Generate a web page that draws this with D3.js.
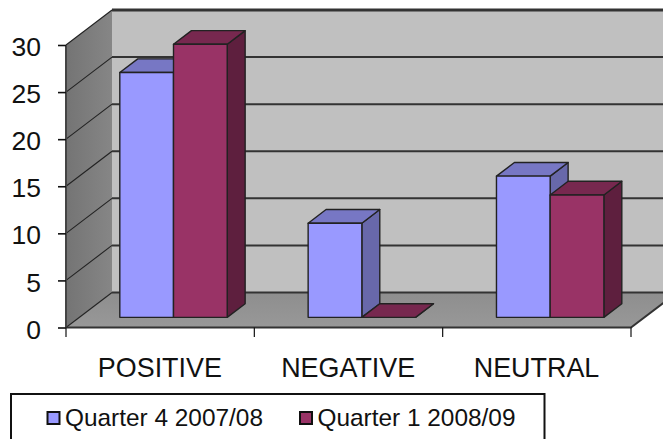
<!DOCTYPE html>
<html>
<head>
<meta charset="utf-8">
<script src="https://cdn.jsdelivr.net/npm/d3@7/dist/d3.min.js"></script>
<style>
html, body { margin: 0; padding: 0; background: #fff; }
svg { display: block; }
text { font-family: "Liberation Sans", Arial, sans-serif; fill: #111; }
</style>
</head>
<body>
<svg id="chart" width="663" height="439"></svg>
<script>
const categories = ["POSITIVE", "NEGATIVE", "NEUTRAL"];
const seriesNames = ["Quarter 4 2007/08", "Quarter 1 2008/09"];
const quarter4 = [26, 10, 15];
const quarter1 = [29, 0, 13];
const yTicks = [0, 5, 10, 15, 20, 25, 30];

const faceColors = [
  { front: "#9999ff", top: "#7777c4", side: "#6868aa" },
  { front: "#993366", top: "#77284f", side: "#5e1f3e" }
];

const W = 663, H = 439;
const depthX = 46, depthY = 35;          // oblique offset of the back wall
const barDepth = [0.29, 0.68];           // near and far faces of each bar along the depth axis
const barWidth = 53.7;
const lineDark = "#333";

const svg = d3.select("#chart");
const x = d3.scaleBand().domain(categories).range([66, 631]);
const y = d3.scaleLinear().domain([0, 30]).range([327.5, 45]);

// Oblique projection: screen position of (pixel x, value, depth 0..1)
const px = (sx, z) => sx + depthX * z;
const py = (v, z) => y(v) - depthY * z;
const poly = pts => pts.map(p => p.join(",")).join(" ");

const defs = svg.append("defs");
const wallGrad = defs.append("linearGradient").attr("id", "wallGrad").attr("x1", 0).attr("x2", 1).attr("y1", 0).attr("y2", 0);
wallGrad.append("stop").attr("offset", 0).attr("stop-color", "#747474");
wallGrad.append("stop").attr("offset", 1).attr("stop-color", "#868686");
const floorGrad = defs.append("linearGradient").attr("id", "floorGrad").attr("x1", 0).attr("x2", 0).attr("y1", 0).attr("y2", 1);
floorGrad.append("stop").attr("offset", 0).attr("stop-color", "#8e8e8e");
floorGrad.append("stop").attr("offset", 1).attr("stop-color", "#989898");

const xEnd = x.range()[1];

// Back wall
svg.append("polygon")
  .attr("points", poly([[px(66, 1), py(30, 1)], [W + 20, py(30, 1)], [W + 20, py(0, 1)], [px(66, 1), py(0, 1)]]))
  .attr("fill", "#c0c0c0");

// Side wall
svg.append("polygon")
  .attr("points", poly([[px(66, 0), py(30, 0)], [px(66, 1), py(30, 1)], [px(66, 1), py(0, 1)], [px(66, 0), py(0, 0)]]))
  .attr("fill", "url(#wallGrad)");

// Floor
svg.append("polygon")
  .attr("points", poly([[px(66, 0), py(0, 0)], [px(66, 1), py(0, 1)], [px(xEnd, 1), py(0, 1)], [px(xEnd, 0), py(0, 0)]]))
  .attr("fill", "url(#floorGrad)");

// Gridlines: a thin diagonal across the side wall, a heavier run along the back wall
yTicks.forEach(v => {
  svg.append("line")
    .attr("x1", px(66, 0)).attr("y1", py(v, 0)).attr("x2", px(66, 1)).attr("y2", py(v, 1))
    .attr("stroke", "#222").attr("stroke-width", 1.1);
  svg.append("line")
    .attr("x1", px(66, 1)).attr("y1", py(v, 1)).attr("x2", W + 20).attr("y2", py(v, 1))
    .attr("stroke", lineDark).attr("stroke-width", v === 30 ? 3 : 2);
});

// Outline of the side wall and floor
svg.append("line").attr("x1", px(66, 0)).attr("x2", px(66, 0)).attr("y1", py(30, 0)).attr("y2", py(0, 0))
  .attr("stroke", "#444").attr("stroke-width", 2);
svg.append("polyline")
  .attr("points", poly([[px(66, 0), py(0, 0)], [px(xEnd, 0), py(0, 0)], [px(xEnd, 1), py(0, 1)]]))
  .attr("fill", "none").attr("stroke", lineDark).attr("stroke-width", 2);

// Left axis ticks and labels
const yAxis = d3.axisLeft(y).tickValues(yTicks).tickSize(8).tickPadding(17).tickSizeOuter(0);
const yG = svg.append("g").attr("transform", "translate(66,0)").call(yAxis);
yG.select(".domain").remove();
yG.selectAll("line").attr("stroke", "#111").attr("stroke-width", 1.6);
yG.selectAll("text")
  .attr("font-size", 26.5)
  .attr("font-family", '"Liberation Sans", Arial, sans-serif')
  .attr("fill", "#111")
  .attr("dy", "0.4em");

// Bottom axis separators and category labels
[66, ...categories.map(c => x(c) + x.bandwidth())].forEach(tx => {
  svg.append("line").attr("x1", tx).attr("x2", tx).attr("y1", 327.5).attr("y2", 337)
    .attr("stroke", "#111").attr("stroke-width", 1.2);
});
svg.selectAll(".cat").data(categories).join("text")
  .attr("class", "cat")
  .attr("x", c => x(c) + x.bandwidth() / 2 - 0.3)
  .attr("y", 377)
  .attr("text-anchor", "middle")
  .attr("font-size", 26.9)
  .text(c => c);

// Bars: side and top faces first, the front face over them
function drawBar(cat, value, seriesIdx) {
  const c = faceColors[seriesIdx];
  const [z0, z1] = barDepth;
  const centre = x(cat) + x.bandwidth() / 2;
  const left = centre - barWidth + barWidth * seriesIdx;
  const right = left + barWidth;
  const g = svg.append("g").attr("stroke", "#222").attr("stroke-width", 1.4).attr("stroke-linejoin", "round");
  g.append("polygon")
    .attr("points", poly([[px(right, z0), py(0, z0)], [px(right, z1), py(0, z1)], [px(right, z1), py(value, z1)], [px(right, z0), py(value, z0)]]))
    .attr("fill", c.side);
  g.append("polygon")
    .attr("points", poly([[px(left, z0), py(value, z0)], [px(left, z1), py(value, z1)], [px(right, z1), py(value, z1)], [px(right, z0), py(value, z0)]]))
    .attr("fill", c.top);
  g.append("rect")
    .attr("x", px(left, z0)).attr("y", py(value, z0))
    .attr("width", barWidth).attr("height", py(0, z0) - py(value, z0))
    .attr("fill", c.front);
}
categories.forEach((cat, i) => {
  drawBar(cat, quarter4[i], 0);
  drawBar(cat, quarter1[i], 1);
});

// Legend
svg.append("rect").attr("x", 11).attr("y", 394).attr("width", 533.5).attr("height", 60)
  .attr("fill", "#fff").attr("stroke", "#111").attr("stroke-width", 2);
const legendSwatchX = [47.5, 300];
seriesNames.forEach((name, i) => {
  svg.append("rect").attr("x", legendSwatchX[i]).attr("y", 412).attr("width", 12).attr("height", 12)
    .attr("fill", faceColors[i].front).attr("stroke", "#111").attr("stroke-width", 2);
  svg.append("text").attr("x", legendSwatchX[i] + 17.5).attr("y", 426)
    .attr("font-size", 24.4).text(name);
});
</script>
</body>
</html>
